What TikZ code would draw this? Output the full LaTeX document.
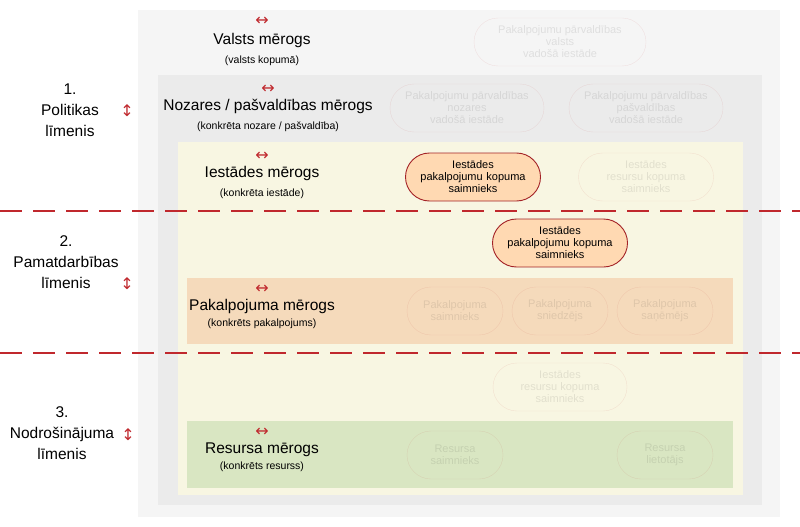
\documentclass[tikz,border=0pt]{standalone}
\usepackage{fontspec}
\setmainfont{Liberation Sans}
\newfontfamily\dejavu{DejaVu Sans}
\definecolor{rd}{HTML}{C0282D}
\definecolor{yel}{HTML}{F8F6E2}
\definecolor{org}{HTML}{F5DABB}
\definecolor{grn}{HTML}{D9E6C2}
\begin{document}
\begin{tikzpicture}[x=1pt,y=-1pt,
  pill/.style={rounded corners=24pt,draw,minimum height=48pt,align=center,font=\fontsize{11}{12}\selectfont,inner sep=2pt},
  act/.style={pill,draw=rd!85!black,line width=0.9pt,fill=orange!30!white,text=black,text width=125pt,minimum width=135pt},
  faint/.style={pill,draw=rd,draw opacity=0.1,text opacity=0.09,text=black},
  ttl/.style={font=\fontsize{15.5}{17}\selectfont},
  sub/.style={font=\fontsize{10.5}{12}\selectfont},
  arr/.style={text=rd,font=\dejavu\fontsize{16}{16}\selectfont},
  lvl/.style={font=\fontsize{15.5}{21}\selectfont,align=center},
  rdash/.style={draw=rd,line width=1.3pt,dash pattern=on 22pt off 11pt}]
\useasboundingbox (0,0) rectangle (800,527);
\fill[white] (0,0) rectangle (800,527);
\fill[black!4] (138,10) rectangle (780,517);
\fill[black!8] (158,75) rectangle (762,505);
\fill[yel] (178,142) rectangle (743,495);
\fill[org] (187,278) rectangle (733,344);
\fill[grn] (187,421) rectangle (733,488);
\draw[rdash] (0,211) -- (800,211);
\draw[rdash] (0,353) -- (800,353);
% titles
\node[arr] (a1) at (262,21) {↔};
\node[ttl] (t1) at (262,40) {Valsts mērogs};
\node[sub] (s1) at (262,61) {(valsts kopumā)};
\node[arr] (a2) at (268,89) {↔};
\node[ttl] (t2) at (268,106) {Nozares / pašvaldības mērogs};
\node[sub] (s2) at (268,127) {(konkrēta nozare / pašvaldība)};
\node[arr] (a3) at (262,156) {↔};
\node[ttl] (t3) at (262,173) {Iestādes mērogs};
\node[sub] (s3) at (262,194) {(konkrēta iestāde)};
\node[arr] (a4) at (262,289) {↔};
\node[ttl] (t4) at (262,306) {Pakalpojuma mērogs};
\node[sub] (s4) at (262,324) {(konkrēts pakalpojums)};
\node[arr] (a5) at (262,432) {↔};
\node[ttl] (t5) at (262,450) {Resursa mērogs};
\node[sub] (s5) at (262,467) {(konkrēts resurss)};
% levels
\node[lvl] (l1) at (70,110) {1.\\Politikas\\līmenis};
\node[arr] (v1) at (127,111) {↕};
\node[lvl] (l2) at (66,262) {2.\\Pamatdarbības\\līmenis};
\node[arr] (v2) at (127,284) {↕};
\node[lvl] (l3) at (62,433) {3.\\Nodrošinājuma\\līmenis};
\node[arr] (v3) at (128,435) {↕};
% pills
\node[faint,minimum width=172pt] (p1) at (560,42) {Pakalpojumu pārvaldības\\valsts\\vadošā iestāde};
\node[faint,minimum width=154pt] (p2) at (467,108) {Pakalpojumu pārvaldības\\nozares\\vadošā iestāde};
\node[faint,minimum width=154pt] (p3) at (646,108) {Pakalpojumu pārvaldības\\pašvaldības\\vadošā iestāde};
\node[act] (p4) at (473,177) {Iestādes\\pakalpojumu kopuma\\saimnieks};
\node[faint,minimum width=135pt] (p5) at (646,177) {Iestādes\\resursu kopuma\\saimnieks};
\node[act] (p6) at (560,243) {Iestādes\\pakalpojumu kopuma\\saimnieks};
\node[faint,minimum width=96pt] (p7) at (455,311) {Pakalpojuma\\saimnieks};
\node[faint,minimum width=96pt] (p8) at (560,311) {Pakalpojuma\\sniedzējs};
\node[faint,minimum width=96pt] (p9) at (665,311) {Pakalpojuma\\saņēmējs};
\node[faint,minimum width=134pt] (p10) at (560,387) {Iestādes\\resursu kopuma\\saimnieks};
\node[faint,minimum width=96pt] (p11) at (455,455) {Resursa\\saimnieks};
\node[faint,minimum width=96pt] (p12) at (665,455) {Resursa\\lietotājs};
\end{tikzpicture}
\end{document}
